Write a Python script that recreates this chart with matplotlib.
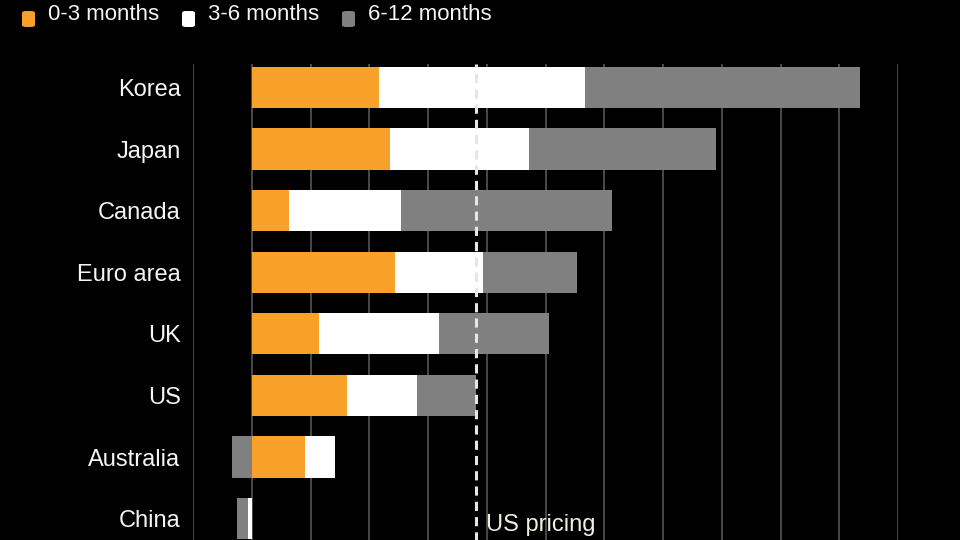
import matplotlib
matplotlib.use("Agg")
import matplotlib.pyplot as plt
from matplotlib.patches import FancyBboxPatch


# ============================================
# Data (basis points priced, by horizon)
# ============================================

countries = ["Korea", "Japan", "Canada", "Euro area", "UK", "US", "Australia", "China"]
m0_3 = [54, 59, 16, 61, 28.5, 40.5, 22.5, 0]
m3_6 = [88, 59, 47.5, 37.5, 51, 30, 13, -1.7]
m6_12 = [117, 79.5, 90, 40, 47, 25, -8.5, -4.7]

series_names = ["0-3 months", "3-6 months", "6-12 months"]
series_colors = ["#F7A12B", "#FFFFFF", "#808080"]

us_pricing = sum(v[countries.index("US")] for v in (m0_3, m3_6, m6_12))


# ============================================
# Figure
# ============================================

plt.rcParams["font.family"] = ["Liberation Sans", "DejaVu Sans"]

W, H = 960, 540
fig = plt.figure(figsize=(W / 100, H / 100), dpi=100, facecolor="black")

ax_left, ax_right, ax_top = 193, 898, 64
ylim_top, ylim_bottom = -0.38, 7.7
row_px = 61.6
ax_h = (ylim_bottom - ylim_top) * row_px
ax = fig.add_axes([ax_left / W, 1 - (ax_top + ax_h) / H,
                   (ax_right - ax_left) / W, ax_h / H])
ax.set_facecolor("black")

# stack positives to the right and negatives to the left
pos = [0.0] * len(countries)
neg = [0.0] * len(countries)
for vals, color in zip((m0_3, m3_6, m6_12), series_colors):
    lefts = []
    for i, v in enumerate(vals):
        if v >= 0:
            lefts.append(pos[i])
            pos[i] += v
        else:
            lefts.append(neg[i])
            neg[i] += v
    ax.barh(range(len(countries)), vals, left=lefts, height=0.67,
            color=color, zorder=2)

ax.axvline(us_pricing, color="#e6e6e6", lw=2.2, ls=(0, (3, 2)), zorder=3)
ax.text(us_pricing + 4, 7.2, "US pricing", color="#f3efdf",
        fontsize=17, va="baseline", ha="left")

ax.set_xlim(-25, 275)
ax.set_ylim(ylim_bottom, ylim_top)
ax.set_xticks(range(-25, 276, 25))
ax.xaxis.grid(True, color="#4a4a4a", lw=1.4, zorder=0)
ax.set_axisbelow(True)
ax.tick_params(axis="x", length=0, labelbottom=False)
ax.tick_params(axis="y", length=0, pad=9, labelsize=17, labelcolor="#f5f5f5")
ax.set_yticks(range(len(countries)))
ax.set_yticklabels(countries)
for side in ("top", "right", "bottom", "left"):
    ax.spines[side].set_visible(False)

# legend along the top
legend_x = [22, 182, 342]
for x, name, color in zip(legend_x, series_names, series_colors):
    fig.patches.append(FancyBboxPatch(
        (x / W, 1 - 27 / H), 13 / W, 16 / H,
        boxstyle="round,pad=0,rounding_size=0.004",
        transform=fig.transFigure, facecolor=color, edgecolor="none"))
    fig.text((x + 26) / W, 1 - 15 / H, name, color="#f5f5f5",
             fontsize=16, va="center", ha="left")

fig.savefig("out.png", dpi=100, facecolor="black")
